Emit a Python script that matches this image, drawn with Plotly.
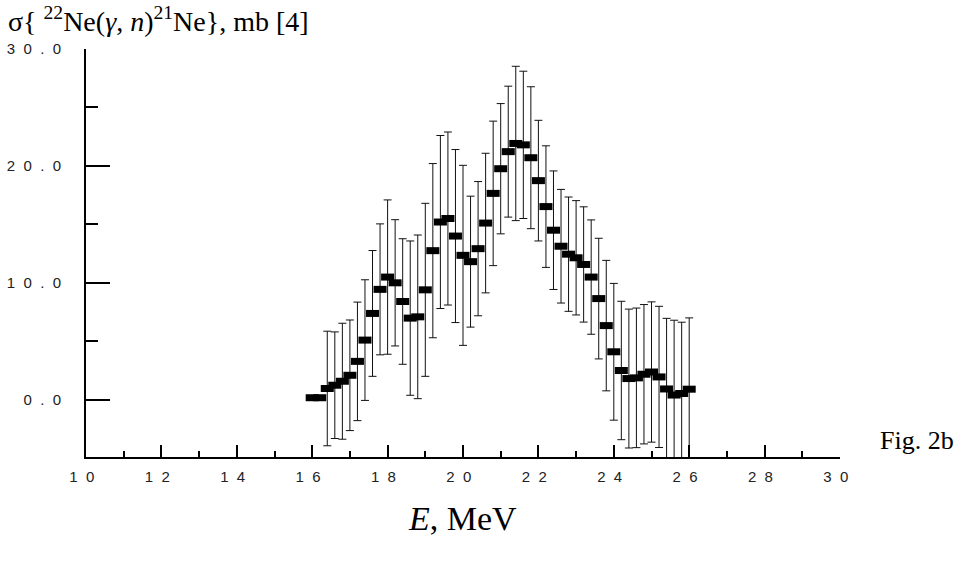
import plotly.graph_objects as go

# Photon energy, MeV
energy = [16.0, 16.2, 16.4, 16.6, 16.8, 17.0, 17.2, 17.4, 17.6, 17.8,
          18.0, 18.2, 18.4, 18.6, 18.8, 19.0, 19.2, 19.4, 19.6, 19.8,
          20.0, 20.2, 20.4, 20.6, 20.8, 21.0, 21.2, 21.4, 21.6, 21.8,
          22.0, 22.2, 22.4, 22.6, 22.8, 23.0, 23.2, 23.4, 23.6, 23.8,
          24.0, 24.2, 24.4, 24.6, 24.8, 25.0, 25.2, 25.4, 25.6, 25.8, 26.0]
# Cross section, mb
sigma = [0.17, 0.17, 0.96, 1.24, 1.58, 2.09, 3.28, 5.10, 7.38, 9.44,
         10.49, 10.00, 8.40, 6.98, 7.09, 9.40, 12.75, 15.20, 15.50, 14.00,
         12.35, 11.81, 12.92, 15.11, 17.65, 19.76, 21.22, 21.92, 21.80, 20.70,
         18.74, 16.52, 14.50, 13.13, 12.45, 12.14, 11.57, 10.49, 8.65, 6.34,
         4.10, 2.50, 1.81, 1.87, 2.18, 2.37, 1.95, 0.92, 0.40, 0.53, 0.90]
# Error, mb
error = [0.0, 0.0, 4.90, 4.56, 4.96, 4.73, 5.07, 5.16, 5.38, 5.60,
         6.60, 5.40, 5.37, 6.60, 7.00, 7.40, 7.45, 7.40, 7.40, 7.40,
         7.70, 5.60, 5.74, 5.97, 6.18, 5.57, 5.60, 6.60, 6.30, 6.07,
         5.16, 5.20, 5.07, 4.86, 4.89, 4.89, 4.93, 4.89, 5.16, 5.58,
         5.85, 5.92, 5.94, 5.97, 5.96, 6.00, 6.04, 6.04, 6.40, 6.10, 6.10]

x_tickvals = [10, 12, 14, 16, 18, 20, 22, 24, 26, 28, 30]
x_ticktext = ["1\u00a0\u00a00\u00a0\u00a0", "1\u00a0\u00a02\u00a0\u00a0", "1\u00a0\u00a04\u00a0\u00a0",
              "1\u00a0\u00a06\u00a0\u00a0", "1\u00a0\u00a08\u00a0\u00a0", "2\u00a0\u00a00\u00a0\u00a0",
              "2\u00a0\u00a02\u00a0\u00a0", "2\u00a0\u00a04\u00a0\u00a0", "2\u00a0\u00a06\u00a0\u00a0",
              "2\u00a0\u00a08\u00a0\u00a0", "3\u00a0\u00a00\u00a0\u00a0"]
y_tickvals = [0, 10, 20, 30]
y_ticktext = ["0\u00a0\u00a0.\u00a0\u00a00", "1\u00a0\u00a00\u00a0\u00a0.\u00a0\u00a00",
              "2\u00a0\u00a00\u00a0\u00a0.\u00a0\u00a00", "3\u00a0\u00a00\u00a0\u00a0.\u00a0\u00a00"]

fig = go.Figure()
fig.add_trace(go.Scatter(
    x=energy, y=sigma, mode="markers",
    marker=dict(symbol="line-ew", size=9.3, color="black",
                line=dict(width=7, color="black")),
    error_y=dict(type="data", array=error, visible=True,
                 color="#111111", thickness=1, width=4),
    cliponaxis=False, showlegend=False,
))

W, H = 960, 564
ml, mr, mt, mb = 86, 120, 49, 107
pw, ph = W - ml - mr, H - mt - mb

def px(xpix):
    return (xpix - ml) / pw

def py(ypix):
    return 1 - (ypix - mt) / ph

fig.update_layout(
    width=W, height=H,
    margin=dict(l=ml, r=mr, t=mt, b=mb, pad=0, autoexpand=False),
    paper_bgcolor="white", plot_bgcolor="white",
    font=dict(family="Liberation Sans", color="#222222"),
    xaxis=dict(range=[10, 30], tickmode="array", tickvals=x_tickvals, ticktext=x_ticktext,
               ticks="inside", ticklen=12, tickwidth=2, tickcolor="black",
               showline=True, linecolor="black", linewidth=2,
               showgrid=False, zeroline=False, automargin=False,
               tickfont=dict(family="Liberation Sans", size=15, color="#222222"),
               ticklabelstandoff=5,
               minor=dict(ticks="inside", ticklen=6, tickwidth=2, tickcolor="black",
                          tickmode="array", tickvals=[11, 13, 15, 17, 19, 21, 23, 25, 27, 29])),
    yaxis=dict(range=[-4.9, 30], tickmode="array", tickvals=y_tickvals, ticktext=y_ticktext,
               ticks="inside", ticklen=24, tickwidth=2, tickcolor="black",
               showline=True, linecolor="black", linewidth=2,
               showgrid=False, zeroline=False, automargin=False,
               tickfont=dict(family="Liberation Sans", size=15, color="#222222"),
               ticklabelstandoff=20,
               minor=dict(ticks="inside", ticklen=12, tickwidth=2, tickcolor="black",
                          tickmode="array", tickvals=[5, 15, 25])),
    annotations=[
        dict(text="σ{ <sup>22</sup>Ne(<i>γ</i>, <i>n</i>)<sup>21</sup>Ne}, mb [4]",
             xref="paper", yref="paper", x=px(6), y=py(19), xanchor="left", yanchor="middle",
             showarrow=False, font=dict(family="Liberation Serif", size=28, color="black")),
        dict(text="Fig. 2b", xref="paper", yref="paper", x=px(956), y=py(440),
             xanchor="right", yanchor="middle", showarrow=False,
             font=dict(family="Liberation Serif", size=26, color="black")),
        dict(text="<i>E</i>, MeV", xref="paper", yref="paper", x=px(462), y=py(518),
             xanchor="center", yanchor="middle", showarrow=False,
             font=dict(family="Liberation Serif", size=34, color="black")),
    ],
)

fig.write_html("out.html")
